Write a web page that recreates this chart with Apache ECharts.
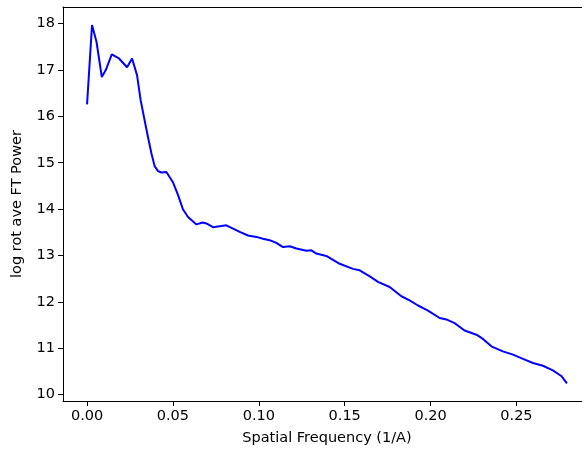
<!DOCTYPE html>
<html>
<head>
<meta charset="utf-8">
<script src="https://cdn.jsdelivr.net/npm/echarts@6/dist/echarts.min.js"></script>
<style>html,body{margin:0;padding:0;background:#fff;overflow:hidden;width:582px;height:451px;}#c{width:620px;height:451px;}</style>
</head>
<body>
<div id="c"></div>
<script>
var freq = [0.0, 0.0029, 0.0055, 0.0086, 0.0109, 0.0144, 0.0186, 0.0233, 0.0262, 0.0291, 0.0312, 0.0336, 0.0355, 0.0375, 0.0394, 0.0414, 0.0433, 0.0462, 0.050, 0.053, 0.0559, 0.0588, 0.0637, 0.0672, 0.0695, 0.0733, 0.0772, 0.0811, 0.085, 0.0889, 0.0937, 0.0986, 0.1024, 0.1063, 0.1102, 0.1141, 0.118, 0.1219, 0.1277, 0.1306, 0.1335, 0.1393, 0.1471, 0.1548, 0.1587, 0.1646, 0.1694, 0.1762, 0.183, 0.1878, 0.1927, 0.1985, 0.2053, 0.2092, 0.214, 0.2198, 0.2267, 0.2305, 0.2354, 0.2421, 0.248, 0.2538, 0.2596, 0.2654, 0.2712, 0.2761, 0.2794];
var power = [16.26, 17.97, 17.61, 16.85, 17.0, 17.34, 17.25, 17.06, 17.25, 16.89, 16.35, 15.9, 15.55, 15.2, 14.92, 14.82, 14.79, 14.8, 14.58, 14.3, 13.99, 13.83, 13.67, 13.71, 13.69, 13.61, 13.63, 13.65, 13.58, 13.51, 13.43, 13.40, 13.36, 13.33, 13.27, 13.18, 13.20, 13.15, 13.10, 13.11, 13.04, 12.99, 12.82, 12.71, 12.68, 12.55, 12.43, 12.32, 12.12, 12.03, 11.92, 11.81, 11.65, 11.62, 11.54, 11.38, 11.29, 11.20, 11.04, 10.93, 10.86, 10.77, 10.68, 10.62, 10.52, 10.40, 10.24];
var xTicks = [0, 0.05, 0.10, 0.15, 0.20, 0.25];
var yTicks = [10, 11, 12, 13, 14, 15, 16, 17, 18];
var xTitle = 'Spatial Frequency (1/A)';
var yTitle = 'log rot ave FT Power';

var pts = freq.map(function (f, i) { return [f, power[i]]; });
var font = 'DejaVu Sans';
var chart = echarts.init(document.getElementById('c'), null, {renderer: 'canvas'});
chart.setOption({
  animation: false,
  grid: {left: 63, top: 7, width: 528, height: 394, outerBoundsMode: 'none', containLabel: false, show: false},
  xAxis: [{
    type: 'value', min: -0.014, max: 0.2934, position: 'bottom',
    name: xTitle, nameLocation: 'middle', nameGap: 30,
    nameTextStyle: {fontFamily: font, fontSize: 14.5, color: '#000'},
    axisLine: {show: true, onZero: false, lineStyle: {color: '#000', width: 1}},
    axisTick: {show: true, length: 5, inside: false, lineStyle: {color: '#000'}, customValues: xTicks},
    axisLabel: {show: true, margin: 8, fontFamily: font, fontSize: 14.5, color: '#000', customValues: xTicks,
      formatter: function (v) { return v.toFixed(2); }},
    splitLine: {show: false}
  }, {
    type: 'value', min: -0.014, max: 0.2934, position: 'top',
    axisLine: {show: true, onZero: false, lineStyle: {color: '#000', width: 1}},
    axisTick: {show: false}, axisLabel: {show: false}, splitLine: {show: false}
  }],
  yAxis: [{
    type: 'value', min: 9.86, max: 18.36, position: 'left',
    name: yTitle, nameLocation: 'middle', nameGap: 38, nameRotate: 90,
    nameTextStyle: {fontFamily: font, fontSize: 14.5, color: '#000'},
    axisLine: {show: true, onZero: false, lineStyle: {color: '#000', width: 1}},
    axisTick: {show: true, length: 5, inside: false, lineStyle: {color: '#000'}, customValues: yTicks},
    axisLabel: {show: true, margin: 8, fontFamily: font, fontSize: 14.5, color: '#000', customValues: yTicks,
      formatter: function (v) { return String(Math.round(v)); }},
    splitLine: {show: false}
  }, {
    type: 'value', min: 9.86, max: 18.36, position: 'right',
    axisLine: {show: true, onZero: false, lineStyle: {color: '#000', width: 1}},
    axisTick: {show: false}, axisLabel: {show: false}, splitLine: {show: false}
  }],
  series: [{
    type: 'line', data: pts, xAxisIndex: 0, yAxisIndex: 0, showSymbol: false, symbol: 'none',
    lineStyle: {color: '#0000ff', width: 2}, clip: true
  }]
});
</script>
</body>
</html>
